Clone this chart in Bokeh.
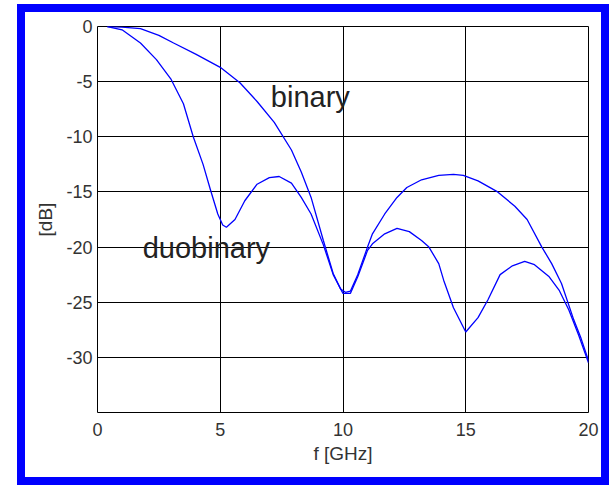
from bokeh.plotting import figure
from bokeh.models import FixedTicker, Label
from bokeh.embed import file_html
from bokeh.resources import INLINE

# Data
binary_f = [0.4, 1.0, 1.75, 2.5, 3.1, 4.0, 5.0, 5.8, 6.5, 7.2, 7.9, 8.3, 8.7, 9.2, 9.6, 9.9,
            10.1, 10.3, 10.6, 11.0, 11.2, 11.7, 12.2, 12.6, 13.2, 13.9, 14.5, 14.9, 15.5,
            16.3, 17.0, 17.5, 18.1, 18.5, 18.9, 19.4, 19.7, 20.0]
binary_db = [0.0, -0.05, -0.2, -0.8, -1.5, -2.5, -3.7, -5.1, -6.8, -8.7, -11.2, -13.2, -15.5,
             -19.4, -22.4, -23.8, -24.1, -24.0, -22.5, -20.0, -18.8, -17.0, -15.5, -14.6,
             -13.9, -13.5, -13.4, -13.5, -14.0, -15.0, -16.3, -17.5, -20.0, -21.5, -23.3,
             -26.6, -28.3, -30.3]

duo_f = [0.4, 1.0, 1.75, 2.4, 3.0, 3.5, 3.9, 4.3, 4.6, 4.9, 5.1, 5.25, 5.6, 6.0, 6.5, 7.0,
         7.4, 7.9, 8.3, 8.7, 9.2, 9.6, 10.0, 10.3, 10.6, 11.0, 11.2, 11.7, 12.2, 12.7, 13.2,
         13.5, 13.9, 14.1, 14.5, 15.0, 15.5, 15.9, 16.4, 16.9, 17.4, 17.8, 18.4, 18.8, 19.2,
         19.6, 20.0]
duo_db = [0.0, -0.3, -1.5, -3.0, -4.8, -7.0, -10.0, -12.5, -14.8, -17.0, -18.0, -18.2, -17.5,
          -15.8, -14.3, -13.7, -13.6, -14.2, -15.5, -17.0, -19.8, -22.5, -24.2, -24.2, -22.7,
          -20.3, -19.7, -18.8, -18.3, -18.6, -19.4, -20.0, -21.5, -23.0, -25.5, -27.7, -26.4,
          -24.8, -22.5, -21.7, -21.3, -21.6, -22.7, -23.9, -25.7, -28.0, -30.5]

x_ticks = [0, 5, 10, 15, 20]
y_ticks = [-30, -25, -20, -15, -10, -5, 0]
y_tick_labels = ["-30", "-25", "-20", "-15", "-10", "-5", "0"]

FONT = "Liberation Sans"

p = figure(width=576, height=465, output_backend="svg", toolbar_location=None,
           x_range=(0, 20), y_range=(-35, 0),
           min_border_left=72, min_border_right=29, min_border_top=14, min_border_bottom=81)
p.styles = {"border": "8px solid #0000FF", "box-sizing": "content-box",
            "margin-left": "17px", "margin-top": "4px"}
p.background_fill_color = "white"
p.border_fill_color = "white"
p.outline_line_color = "black"
p.outline_line_width = 1

p.line(binary_f, binary_db, line_color="#0000FF", line_width=1.3)
p.line(duo_f, duo_db, line_color="#0000FF", line_width=1.3)

for ax in (p.xaxis[0], p.yaxis[0]):
    ax.axis_line_color = None
    ax.major_tick_line_color = None
    ax.minor_tick_line_color = None
    ax.major_tick_out = 0
    ax.major_tick_in = 0
    ax.major_label_text_font = FONT
    ax.major_label_text_font_size = "18px"
    ax.major_label_text_color = "#333333"
    ax.axis_label_text_font = FONT
    ax.axis_label_text_font_size = "19px"
    ax.axis_label_text_font_style = "normal"
    ax.axis_label_text_color = "#333333"

p.xaxis.ticker = FixedTicker(ticks=x_ticks)
p.yaxis.ticker = FixedTicker(ticks=y_ticks)
p.yaxis.major_label_overrides = {t: s for t, s in zip(y_ticks, y_tick_labels)}
p.xaxis.axis_label = "f [GHz]"
p.yaxis.axis_label = "[dB]"
p.xaxis.major_label_standoff = 10
p.yaxis.major_label_standoff = 5
p.xaxis.axis_label_standoff = 4
p.yaxis.axis_label_standoff = 7

p.xgrid.ticker = FixedTicker(ticks=x_ticks)
p.ygrid.ticker = FixedTicker(ticks=y_ticks)
for g in (p.xgrid[0], p.ygrid[0]):
    g.grid_line_color = "black"
    g.grid_line_width = 1
    g.grid_line_alpha = 1.0

p.add_layout(Label(x=7.06, y=-6.4, text="binary", text_font=FONT, text_font_size="29px",
                   text_color="#222222", text_baseline="alphabetic", text_align="left"))
p.add_layout(Label(x=1.84, y=-20.1, text="duobinary", text_font=FONT, text_font_size="29px",
                   text_color="#222222", text_baseline="alphabetic", text_align="left"))

open("out.html", "w").write(file_html(p, INLINE))
